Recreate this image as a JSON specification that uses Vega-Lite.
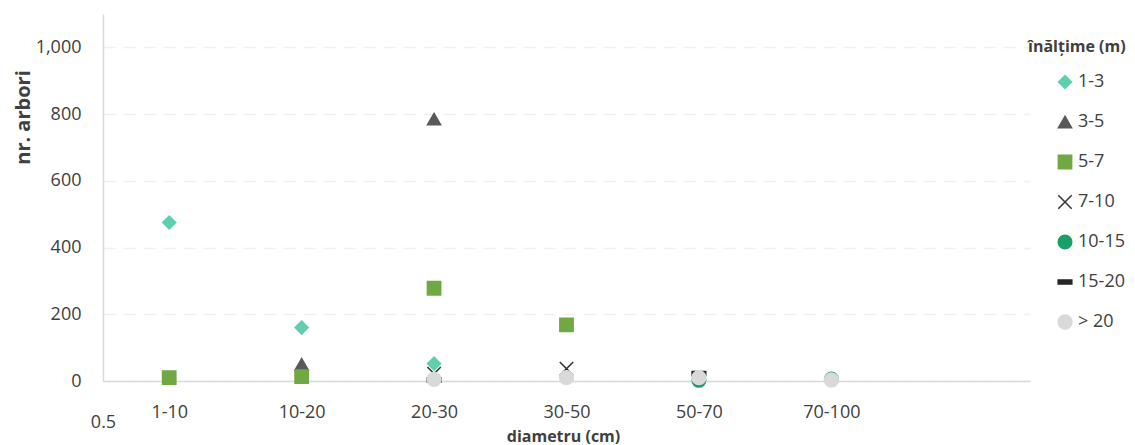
{
  "$schema": "https://vega.github.io/schema/vega-lite/v6.json",
  "autosize": "none",
  "width": 927,
  "height": 367,
  "padding": {"left": 103, "top": 14, "right": 105, "bottom": 64},
  "background": "white",
  "config": {
    "font": "Open Sans",
    "view": {"stroke": null},
    "legend": {
      "orient": "none",
      "legendX": 925,
      "legendY": 25,
      "titleFontSize": 16,
      "titleFontWeight": "bold",
      "titleColor": "#404040",
      "titlePadding": 17,
      "labelFontSize": 18,
      "labelColor": "#404040",
      "labelOffset": 4,
      "symbolOffset": 28,
      "symbolStrokeWidth": 1.5,
      "rowPadding": 20,
      "clipHeight": 20
    }
  },
  "data": {
    "values": [
      {"d": 1, "diametru": "1-10", "h": "1-3", "n": 475},
      {"d": 2, "diametru": "10-20", "h": "1-3", "n": 160},
      {"d": 3, "diametru": "20-30", "h": "1-3", "n": 52},
      {"d": 2, "diametru": "10-20", "h": "3-5", "n": 50},
      {"d": 3, "diametru": "20-30", "h": "3-5", "n": 785},
      {"d": 1, "diametru": "1-10", "h": "5-7", "n": 10},
      {"d": 2, "diametru": "10-20", "h": "5-7", "n": 13},
      {"d": 3, "diametru": "20-30", "h": "5-7", "n": 278},
      {"d": 4, "diametru": "30-50", "h": "5-7", "n": 168},
      {"d": 3, "diametru": "20-30", "h": "7-10", "n": 22},
      {"d": 4, "diametru": "30-50", "h": "7-10", "n": 37},
      {"d": 5, "diametru": "50-70", "h": "10-15", "n": 2},
      {"d": 6, "diametru": "70-100", "h": "10-15", "n": 6},
      {"d": 3, "diametru": "20-30", "h": "15-20", "n": 3},
      {"d": 5, "diametru": "50-70", "h": "15-20", "n": 22},
      {"d": 3, "diametru": "20-30", "h": "> 20", "n": 5},
      {"d": 4, "diametru": "30-50", "h": "> 20", "n": 10},
      {"d": 5, "diametru": "50-70", "h": "> 20", "n": 10},
      {"d": 6, "diametru": "70-100", "h": "> 20", "n": 3}
    ]
  },
  "mark": {"type": "point", "filled": true, "strokeWidth": 1.5, "opacity": 1},
  "encoding": {
    "x": {
      "field": "d",
      "type": "quantitative",
      "scale": {"domain": [0.5, 7.5], "nice": false, "zero": false},
      "axis": {
        "values": [0.5, 1, 2, 3, 4, 5, 6],
        "labelExpr": "datum.value == 0.5 ? '0.5' : ['','1-10','10-20','20-30','30-50','50-70','70-100'][datum.value]",
        "grid": false,
        "ticks": false,
        "domainColor": "#d9d9d9",
        "domainWidth": 1.5,
        "labelFontSize": 18,
        "labelColor": "#404040",
        "labelPadding": {"condition": {"test": "datum.value == 0.5", "value": 32}, "value": 22},
        "labelFlush": false,
        "labelOverlap": false,
        "title": "diametru (cm)",
        "titleFontSize": 16,
        "titleFontWeight": "bold",
        "titleColor": "#404040",
        "titleBaseline": "middle",
        "titleX": 460,
        "titleY": 55
      }
    },
    "y": {
      "field": "n",
      "type": "quantitative",
      "scale": {"domain": [0, 1100], "nice": false},
      "axis": {
        "values": [0, 200, 400, 600, 800, 1000],
        "format": ",d",
        "ticks": false,
        "gridColor": "#efefef",
        "gridDash": [12, 8],
        "gridWidth": 1.5,
        "domainColor": "#d9d9d9",
        "domainWidth": 1.5,
        "labelFontSize": 18,
        "labelColor": "#404040",
        "labelPadding": 22,
        "title": "nr. arbori",
        "titleFontSize": 20,
        "titleFontWeight": "bold",
        "titleColor": "#404040",
        "titleBaseline": "middle",
        "titleX": -80,
        "titleY": 103
      }
    },
    "shape": {
      "field": "h",
      "type": "nominal",
      "scale": {
        "domain": ["1-3", "3-5", "5-7", "7-10", "10-15", "15-20", "> 20"],
        "range": ["diamond", "triangle-up", "square", "M-1,-1L1,1M-1,1L1,-1", "circle", "M-1,-0.3L1,-0.3L1,0.3L-1,0.3Z", "circle"]
      },
      "legend": {"title": "înălțime (m)"}
    },
    "fill": {
      "field": "h",
      "type": "nominal",
      "scale": {
        "domain": ["1-3", "3-5", "5-7", "7-10", "10-15", "15-20", "> 20"],
        "range": ["#5fcfae", "#595959", "#70a844", "#c6df8b", "#1a9e6a", "#262626", "#d9d9d9"]
      },
      "legend": {"title": "înălțime (m)"}
    },
    "stroke": {
      "field": "h",
      "type": "nominal",
      "scale": {
        "domain": ["1-3", "3-5", "5-7", "7-10", "10-15", "15-20", "> 20"],
        "range": ["#5fcfae", "#595959", "#70a844", "#333333", "#1a9e6a", "#262626", "#d9d9d9"]
      },
      "legend": {"title": "înălțime (m)"}
    },
    "size": {
      "field": "h",
      "type": "nominal",
      "scale": {
        "domain": ["1-3", "3-5", "5-7", "7-10", "10-15", "15-20", "> 20"],
        "range": [170, 190, 200, 110, 150, 180, 160]
      },
      "legend": {"title": "înălțime (m)"}
    }
  }
}
